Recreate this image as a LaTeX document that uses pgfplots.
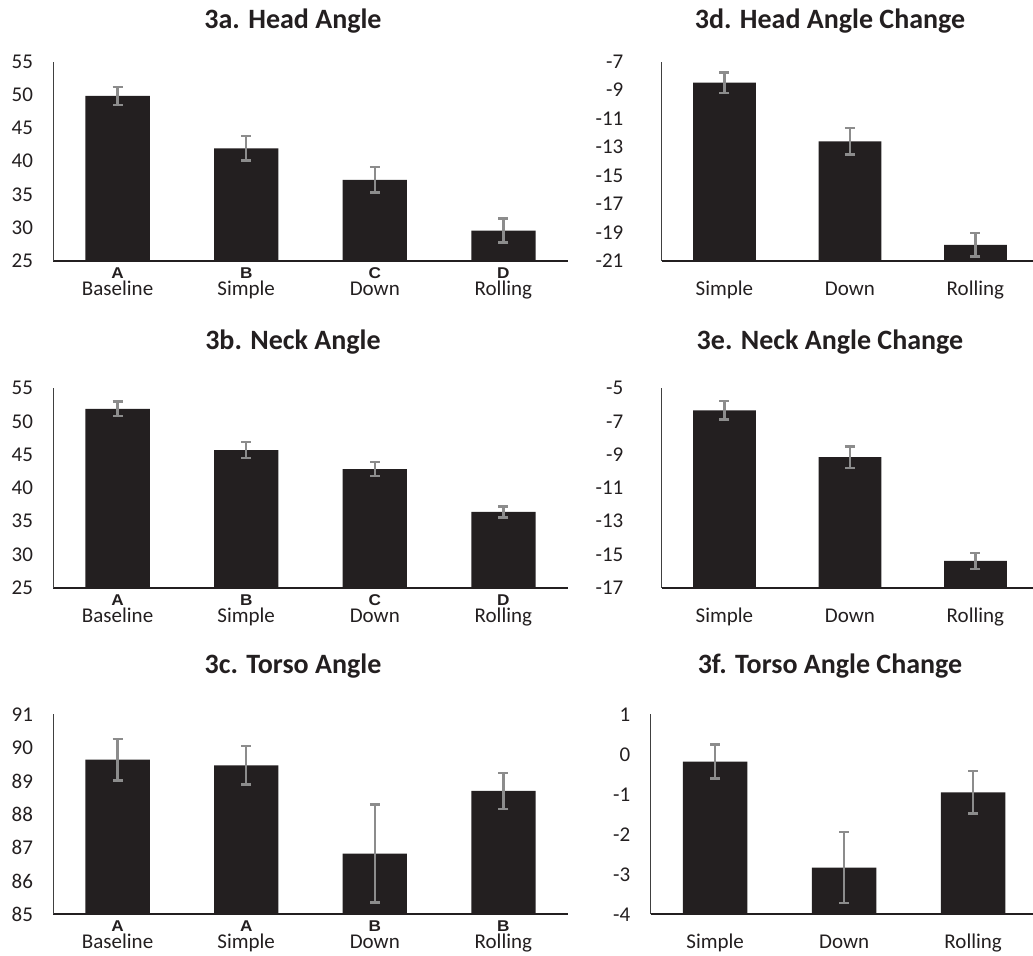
\documentclass[border=0pt]{standalone}
\usepackage{fontspec}
\setmainfont{Carlito}
\newfontfamily\arialfont{Liberation Sans}
\usepackage{graphicx}
\usepackage{pgfplots}
\pgfplotsset{compat=1.18}
\usepackage{pgfplotstable}
\definecolor{barc}{RGB}{35,31,32}
\definecolor{errc}{RGB}{140,140,140}
\definecolor{txtc}{RGB}{35,31,32}
\newcommand\lab[2]{\setbox0\hbox{#2}\rlap{\hbox to \wd0{\hss\raisebox{8.4pt}{\scalebox{1.1}[1]{\arialfont\bfseries\fontsize{7.8}{9}\selectfont #1}}\hss}}\box0}

\pgfplotstableread{
x y e
0 49.85 1.35
1 41.95 1.85
2 37.2 1.9
3 29.55 1.8
}\tA
\pgfplotstableread{
x y e
0 51.9 1.1
1 45.7 1.2
2 42.85 1.05
3 36.4 0.85
}\tB
\pgfplotstableread{
x y e
0 89.64 0.62
1 89.47 0.58
2 86.82 1.47
3 88.7 0.54
}\tC
\pgfplotstableread{
x y e
0 -8.48 0.73
1 -12.6 0.92
2 -19.88 0.82
}\tD
\pgfplotstableread{
x y e
0 -6.33 0.56
1 -9.14 0.65
2 -15.38 0.48
}\tE
\pgfplotstableread{
x y e
0 -0.18 0.43
1 -2.83 0.89
2 -0.95 0.53
}\tF

\pgfplotsset{
 panel/.style={
  scale only axis, anchor=south west,
  axis x line=bottom, axis y line=left,
  x axis line style={-, draw=barc, line width=1pt},
  y axis line style={-, draw=black!75, line width=0.55pt},
  major tick length=0pt, tick style={draw=none},
  ticklabel style={font=\fontsize{10.5}{8.6}\selectfont, text=txtc},
  yticklabel style={anchor=east, inner sep=0pt, xshift=-10pt},
  xticklabel style={anchor=base, inner sep=0pt, yshift=-17.2pt},
  ybar, bar width=0.5, clip=true,
 },
 trafo/.style={y coord trafo/.code={\pgfmathparse{##1-(#1)}}, y coord inv trafo/.code={\pgfmathparse{##1+(#1)}}},
 bars/.style={fill=barc, draw=none,
   error bars/.cd, y dir=both, y explicit,
   error bar style={line width=1.25pt, draw=errc},
   error mark options={rotate=90, draw=errc, line width=1.25pt, mark size=2.5pt}},
}
\tikzset{ttl/.style={font=\bfseries\fontsize{14}{16}\selectfont, text=txtc, anchor=base, inner sep=0pt}}

\begin{document}
\begin{tikzpicture}
\path[use as bounding box] (0,0) rectangle (516.5pt,-478pt);
% 3a
\node[ttl] at (146.5pt,-14.15pt) {3a. Head Angle};
\begin{axis}[panel, trafo=25, at={(26.65pt,-130.35pt)}, width=257.2pt, height=99.5pt,
  xmin=-0.5, xmax=3.5, ymin=25, ymax=55, ytick={25,30,35,40,45,50,55}, yticklabels={25,30,35,40,45,50,55},
  xtick={0,1,2,3}, xticklabels={{\lab{A}{Baseline}},{\lab{B}{Simple}},{\lab{C}{Down}},{\lab{D}{Rolling}}}]
\addplot[bars] table[x=x, y=y, y error=e] {\tA};
\end{axis}
% 3b
\node[ttl] at (146.5pt,-174.65pt) {3b. Neck Angle};
\begin{axis}[panel, trafo=25, at={(26.65pt,-293.85pt)}, width=257.2pt, height=99.7pt,
  xmin=-0.5, xmax=3.5, ymin=25, ymax=55, ytick={25,30,35,40,45,50,55}, yticklabels={25,30,35,40,45,50,55},
  xtick={0,1,2,3}, xticklabels={{\lab{A}{Baseline}},{\lab{B}{Simple}},{\lab{C}{Down}},{\lab{D}{Rolling}}}]
\addplot[bars] table[x=x, y=y, y error=e] {\tB};
\end{axis}
% 3c
\node[ttl] at (146.5pt,-336.65pt) {3c. Torso Angle};
\begin{axis}[panel, trafo=85, at={(26.65pt,-457.15pt)}, width=257.2pt, height=100pt,
  xmin=-0.5, xmax=3.5, ymin=85, ymax=91, ytick={85,86,87,88,89,90,91}, yticklabels={85,86,87,88,89,90,91},
  xtick={0,1,2,3}, xticklabels={{\lab{A}{Baseline}},{\lab{A}{Simple}},{\lab{B}{Down}},{\lab{B}{Rolling}}}]
\addplot[bars] table[x=x, y=y, y error=e] {\tC};
\end{axis}
% 3d
\node[ttl] at (415pt,-14.15pt) {3d. Head Angle Change};
\begin{axis}[panel, trafo=-21, at={(330.85pt,-130.35pt)}, width=188.25pt, height=99.5pt,
  yticklabel style={xshift=-9pt},
  xmin=-0.5, xmax=2.5, ymin=-21, ymax=-7, ytick={-21,-19,-17,-15,-13,-11,-9,-7}, yticklabels={-21,-19,-17,-15,-13,-11,-9,-7},
  xtick={0,1,2}, xticklabels={Simple,Down,Rolling}]
\addplot[bars] table[x=x, y=y, y error=e] {\tD};
\end{axis}
% 3e
\node[ttl] at (415pt,-174.65pt) {3e. Neck Angle Change};
\begin{axis}[panel, trafo=-17, at={(330.85pt,-293.85pt)}, width=188.25pt, height=99.7pt,
  yticklabel style={xshift=-9pt},
  xmin=-0.5, xmax=2.5, ymin=-17, ymax=-5, ytick={-17,-15,-13,-11,-9,-7,-5}, yticklabels={-17,-15,-13,-11,-9,-7,-5},
  xtick={0,1,2}, xticklabels={Simple,Down,Rolling}]
\addplot[bars] table[x=x, y=y, y error=e] {\tE};
\end{axis}
% 3f
\node[ttl] at (415pt,-336.65pt) {3f. Torso Angle Change};
\begin{axis}[panel, trafo=-4, at={(325.35pt,-457.15pt)}, width=193.5pt, height=100pt,
  xmin=-0.5, xmax=2.5, ymin=-4, ymax=1, ytick={-4,-3,-2,-1,0,1}, yticklabels={-4,-3,-2,-1,0,1},
  xtick={0,1,2}, xticklabels={Simple,Down,Rolling}]
\addplot[bars] table[x=x, y=y, y error=e] {\tF};
\end{axis}
\end{tikzpicture}
\end{document}
